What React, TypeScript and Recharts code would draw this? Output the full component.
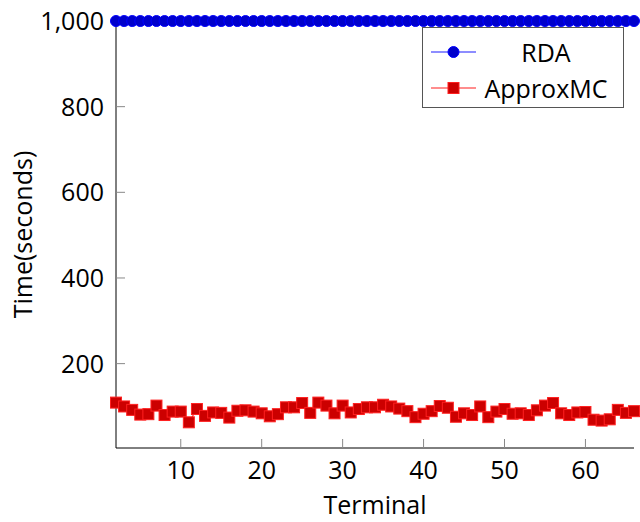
import React from "react";
import { LineChart, Line, XAxis, YAxis, Legend } from "recharts";

const terminals = Array.from({ length: 65 }, (_, i) => i + 2);

const rdaTimes = [
  1000, 1000, 1000, 1000, 1000, 1000, 1000, 1000, 1000, 1000, 1000, 1000, 1000,
  1000, 1000, 1000, 1000, 1000, 1000, 1000, 1000, 1000, 1000, 1000, 1000, 1000,
  1000, 1000, 1000, 1000, 1000, 1000, 1000, 1000, 1000, 1000, 1000, 1000, 1000,
  1000, 1000, 1000, 1000, 1000, 1000, 1000, 1000, 1000, 1000, 1000, 1000, 1000,
  1000, 1000, 1000, 1000, 1000, 1000, 1000, 1000, 1000, 1000, 1000, 1000, 1000,
];

const approxTimes = [
  109, 100, 92, 81, 82, 102, 80, 88, 88, 63, 94, 78, 86, 85, 74, 90, 91, 88, 84,
  77, 82, 98, 98, 108, 85, 109, 102, 84, 102, 86, 94, 98, 98, 104, 100, 95, 89,
  75, 83, 89, 101, 97, 76, 84, 80, 100, 75, 88, 94, 83, 84, 80, 91, 102, 108, 84,
  80, 86, 87, 69, 67, 70, 92, 85, 89,
];

const xTicks = [10, 20, 30, 40, 50, 60];
const yTicks = [200, 400, 600, 800, 1000];

const FONT = "'Open Sans', sans-serif";

const data = terminals.map((t, i) => ({
  terminal: t,
  rda: rdaTimes[i],
  approx: approxTimes[i],
}));

const BlueDot = (props: any) => {
  const { cx, cy, index } = props;
  if (cx == null || cy == null) return <g key={`b${index}`} />;
  return (
    <circle key={`b${index}`} cx={cx} cy={cy} r={5.5} fill="#0000cc" stroke="#0000ff" strokeWidth={1} />
  );
};

const RedSquare = (props: any) => {
  const { cx, cy, index } = props;
  if (cx == null || cy == null) return <g key={`r${index}`} />;
  return (
    <rect key={`r${index}`} x={cx - 5.5} y={cy - 5.5} width={11} height={11} fill="#cc0000" stroke="#ff2020" strokeWidth={1} />
  );
};

const LegendBox = () => (
  <div
    style={{
      width: 202,
      height: 81,
      boxSizing: "border-box",
      border: "1px solid #555",
      background: "white",
      fontFamily: FONT,
      fontSize: 25,
      color: "#000",
      paddingTop: 6,
    }}
  >
    {[
      { name: "RDA", color: "#0000ff", marker: "circle" },
      { name: "ApproxMC", color: "#ff0000", marker: "square" },
    ].map((e) => (
      <div key={e.name} style={{ display: "flex", alignItems: "center", height: 36 }}>
        <svg width={58} height={20} style={{ flex: "none" }}>
          <line x1={8} y1={10} x2={53} y2={10} stroke={e.color} strokeOpacity={0.6} strokeWidth={1.5} />
          {e.marker === "circle" ? (
            <circle cx={30.5} cy={10} r={5.5} fill="#0000cc" stroke="#0000ff" />
          ) : (
            <rect x={25} y={4.5} width={11} height={11} fill="#cc0000" stroke="#ff2020" />
          )}
        </svg>
        <span style={{ width: 130, textAlign: "center", lineHeight: "36px" }}>{e.name}</span>
      </div>
    ))}
  </div>
);

const tickStyle = { fontSize: 25, fill: "#000", fontFamily: FONT };

export default function App() {
  return (
    <div style={{ position: "absolute", left: 0, top: 0, background: "white" }}>
      <LineChart
        width={640}
        height={522}
        data={data}
        margin={{ top: 21, right: 6, bottom: 0, left: 0 }}
      >
        <XAxis
          xAxisId="bottom"
          dataKey="terminal"
          type="number"
          domain={[2, 66]}
          ticks={xTicks}
          height={74}
          tickSize={-9}
          tickMargin={22}
          tick={tickStyle}
          tickLine={{ stroke: "#888" }}
          axisLine={{ stroke: "#000" }}
          label={({ viewBox }: any) => (
            <text
              x={viewBox.x + viewBox.width / 2}
              y={viewBox.y + 66}
              textAnchor="middle"
              fontFamily={FONT}
              fontSize={25}
              fill="#000"
            >
              Terminal
            </text>
          )}
        />
        <XAxis
          xAxisId="top"
          orientation="top"
          dataKey="terminal"
          type="number"
          domain={[2, 66]}
          ticks={xTicks}
          height={0}
          tickSize={-9}
          tick={<g />}
          tickLine={{ stroke: "#888" }}
          axisLine={{ stroke: "#000" }}
        />
        <YAxis
          yAxisId="left"
          type="number"
          domain={[3, 1000]}
          ticks={yTicks}
          width={116}
          tickSize={-9}
          tickMargin={21}
          tick={tickStyle}
          tickFormatter={(v: number) => v.toLocaleString("en-US")}
          tickLine={{ stroke: "#888" }}
          axisLine={{ stroke: "#000" }}
          label={({ viewBox }: any) => (
            <text
              x={22}
              y={viewBox.y + viewBox.height / 2}
              textAnchor="middle"
              dominantBaseline="central"
              transform={`rotate(-90, 22, ${viewBox.y + viewBox.height / 2})`}
              fontFamily={FONT}
              fontSize={25}
              fill="#000"
            >
              Time(seconds)
            </text>
          )}
        />
        <YAxis
          yAxisId="right"
          orientation="right"
          type="number"
          domain={[3, 1000]}
          ticks={yTicks}
          width={0}
          tickSize={-9}
          tick={<g />}
          tickLine={{ stroke: "#888" }}
          axisLine={{ stroke: "#000" }}
        />
        <Legend
          layout="vertical"
          align="center"
          verticalAlign="middle"
          wrapperStyle={{ top: 27, left: 422, width: 202 }}
          content={() => <LegendBox />}
        />
        <Line
          xAxisId="bottom"
          yAxisId="left"
          dataKey="rda"
          name="RDA"
          stroke="#0000ff"
          strokeWidth={1}
          dot={BlueDot}
          isAnimationActive={false}
        />
        <Line
          xAxisId="bottom"
          yAxisId="left"
          dataKey="approx"
          name="ApproxMC"
          stroke="#ff0000"
          strokeWidth={1}
          dot={RedSquare}
          isAnimationActive={false}
        />
      </LineChart>
    </div>
  );
}
